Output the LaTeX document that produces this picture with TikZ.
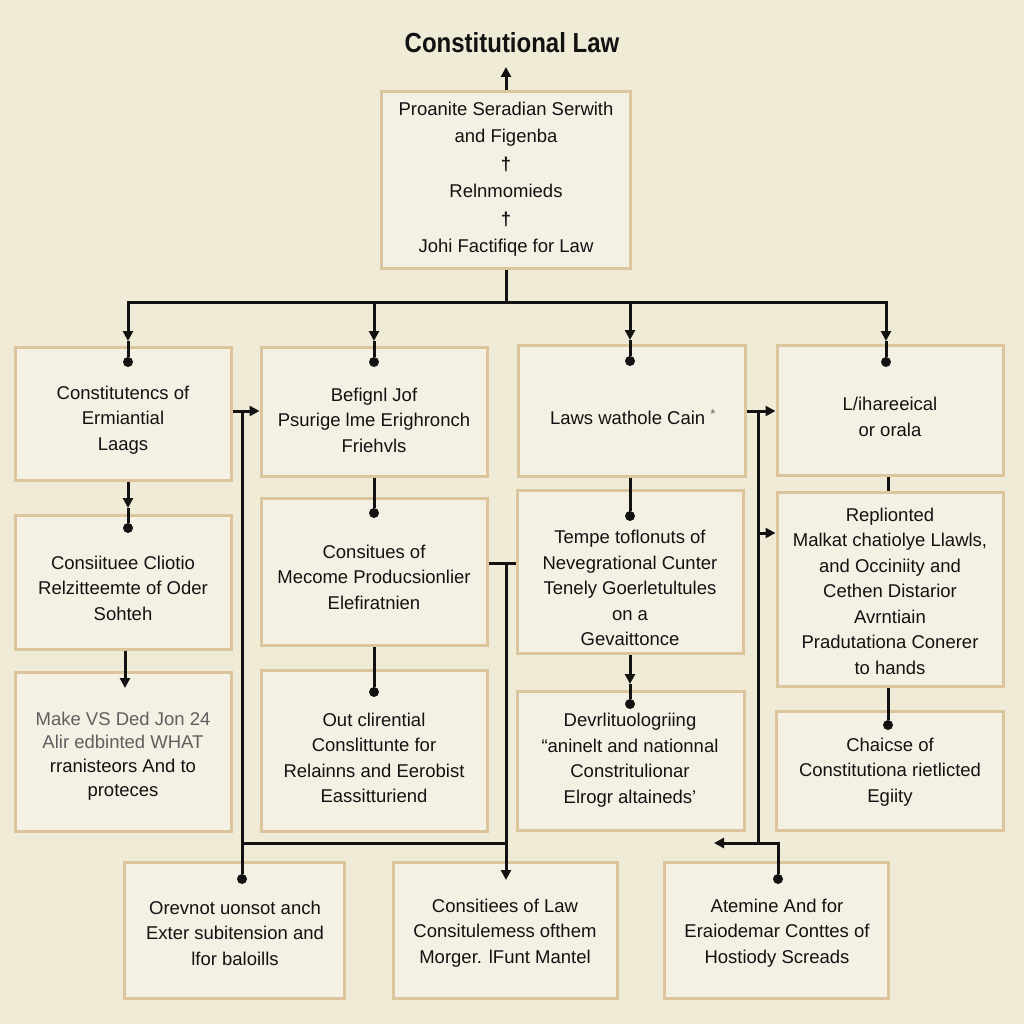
\documentclass[tikz,border=0pt]{standalone}
\usepackage{fontspec}
\setmainfont{Liberation Sans}
\usetikzlibrary{arrows.meta,calc}
\definecolor{bg}{RGB}{239,235,215}
\definecolor{boxfill}{RGB}{244,241,228}
\definecolor{boxline}{RGB}{220,196,156}
\definecolor{ink}{RGB}{18,18,18}
\definecolor{soft}{RGB}{95,95,95}
\begin{document}
\begin{tikzpicture}[x=1pt,y=-1pt,
  box/.style={draw=boxline, fill=boxfill, line width=3pt, inner sep=0pt, rectangle},
  txt/.style={font=\fontsize{18.5}{25.5}\selectfont, text=ink, align=center, inner sep=0pt},
  conn/.style={draw=ink, line width=3pt},
  arr/.style={conn, -{Triangle[length=10pt,width=10pt]}},
  dot/.style={circle, fill=ink, inner sep=0pt, minimum size=10pt}
]
\fill[bg] (0,0) rectangle (1024,1024);
\useasboundingbox (0,0) rectangle (1024,1024);

% title
\node[font=\bfseries\fontsize{24}{28}\selectfont, text=ink, inner sep=0pt] (title) at (512,43) {\scalebox{1}[1.15]{Constitutional Law}};

% boxes
\node[box, minimum width=249pt, minimum height=176pt] (T) at (506,180) {};
\node[box, minimum width=216pt, minimum height=133pt] (a1) at (123,413.5) {};
\node[box, minimum width=226pt, minimum height=129pt] (b1) at (374,411.5) {};
\node[box, minimum width=227pt, minimum height=131pt] (c1) at (631.5,410.5) {};
\node[box, minimum width=226pt, minimum height=130pt] (d1) at (890,410) {};
\node[box, minimum width=216pt, minimum height=134pt] (a2) at (123,582) {};
\node[box, minimum width=226pt, minimum height=147pt] (b2) at (374,571.5) {};
\node[box, minimum width=226pt, minimum height=163pt] (c2) at (630,571.5) {};
\node[box, minimum width=226pt, minimum height=194pt] (d2) at (890,589) {};
\node[box, minimum width=216pt, minimum height=159pt] (a3) at (123,751.5) {};
\node[box, minimum width=226pt, minimum height=161pt] (b3) at (374,750.5) {};
\node[box, minimum width=227pt, minimum height=139pt] (c3) at (630.5,760.5) {};
\node[box, minimum width=227pt, minimum height=119pt] (d3) at (889.5,770.5) {};
\node[box, minimum width=220pt, minimum height=136pt] (e1) at (234,930) {};
\node[box, minimum width=224pt, minimum height=136pt] (e2) at (505,930) {};
\node[box, minimum width=224pt, minimum height=136pt] (e3) at (776,930) {};

% texts
\node[txt, font=\fontsize{18.5}{27.5}\selectfont] (Tt) at (506,179) {Proanite Seradian Serwith\\and Figenba\\\textbf{†}\\Relnmomieds\\\textbf{†}\\Johi Factifiqe for Law};
\node[txt] (a1t) at (123,420) {Constitutencs of\\Ermiantial\\Laags};
\node[txt] (b1t) at (374,420) {Befignl Jof\\Psurige lme Erighronch\\Friehvls};
\node[txt] (c1t) at (633,417) {Laws wathole Cain \textcolor{soft}{\textsuperscript{*}}};
\node[txt] (d1t) at (890,417) {L/ihareeical\\or orala};
\node[txt] (a2t) at (123,588) {Consiituee Cliotio\\Relzitteemte of Oder\\Sohteh};
\node[txt] (b2t) at (374,577) {Consitues of\\Mecome Producsionlier\\Elefiratnien};
\node[txt] (c2t) at (630,588) {Tempe toflonuts of\\Nevegrational Cunter\\Tenely Goerletultules\\on a\\Gevaittonce};
\node[txt] (d2t) at (890,591) {Replionted\\Malkat chatiolye Llawls,\\and Occiniity and\\Cethen Distarior\\Avrntiain\\Pradutationa Conerer\\to hands};
\node[txt, font=\fontsize{18.5}{23.7}\selectfont] (a3t) at (123,756) {\textcolor{soft}{Make VS Ded Jon 24}\\\textcolor{soft}{Alir edbinted WHAT}\\rranisteors And to\\proteces};
\node[txt] (b3t) at (374,758) {Out clirential\\Conslittunte for\\Relainns and Eerobist\\Eassitturiend};
\node[txt] (c3t) at (630,760) {Devrlituologriing\\“aninelt and nationnal\\Constritulionar\\Elrogr altaineds’};
\node[txt] (d3t) at (890,772) {Chaicse of\\Constitutiona rietlicted\\Egiity};
\node[txt] (e1t) at (235,933) {Orevnot uonsot anch\\Exter subitension and\\lfor baloills};
\node[txt] (e2t) at (505,933) {Consitiees of Law\\Consitulemess ofthem\\Morger. lFunt Mantel};
\node[txt] (e3t) at (777,933) {Atemine And for\\Eraiodemar Conttes of\\Hostiody Screads};

% dots
\node[dot] (a1d) at (128,362) {};
\node[dot] (b1d) at (374,362) {};
\node[dot] (c1d) at (630,361) {};
\node[dot] (d1d) at (886,362) {};
\node[dot] (a2d) at (128,528) {};
\node[dot] (b2d) at (374,513) {};
\node[dot] (c2d) at (630,516) {};
\node[dot] (b3d) at (374,692) {};
\node[dot] (c3d) at (630,704) {};
\node[dot] (d3d) at (888,725) {};
\node[dot] (e1d) at (242,879) {};
\node[dot] (e3d) at (778,879) {};

% coordinates
\coordinate (tup) at (506,67);
\coordinate (busM) at (506,302);
\coordinate (bA) at (128,302);
\coordinate (bB) at (374,302);
\coordinate (bC) at (630,302);
\coordinate (bD) at (886,302);
\coordinate (tA) at (128,341);
\coordinate (tB) at (374,341);
\coordinate (tC) at (630,340);
\coordinate (tD) at (886,341);
\coordinate (tA2) at (128,508);
\coordinate (tA3) at (125,688);
\coordinate (tC3) at (630,684);
\coordinate (jA) at (242,411);
\coordinate (jAb) at (242,843);
\coordinate (jB) at (506,563);
\coordinate (jM) at (506,843);
\coordinate (tE2) at (506,880);
\coordinate (jC) at (758,411);
\coordinate (jC2) at (758,533);
\coordinate (jCb) at (758,843);
\coordinate (jE) at (778,843);
\coordinate (jEl) at (714,843);

% connectors
\draw[arr] (T.north) -- (tup);
\draw[conn] (T.south) -- (busM);
\draw[conn, line cap=rect] (bA) -- (bD);
\draw[arr] (bA) -- (tA); \draw[conn] (tA) -- (a1d);
\draw[arr] (bB) -- (tB); \draw[conn] (tB) -- (b1d);
\draw[arr] (bC) -- (tC); \draw[conn] (tC) -- (c1d);
\draw[arr] (bD) -- (tD); \draw[conn] (tD) -- (d1d);

\draw[arr] (a1.south -| a1d) -- (tA2); \draw[conn] (tA2) -- (a2d);
\draw[arr] (a2.south -| tA3) -- (tA3);
\draw[conn] (b1.south -| b1d) -- (b2d);
\draw[conn] (b2.south -| b3d) -- (b3d);
\draw[conn] (c1.south -| c2d) -- (c2d);
\draw[arr] (c2.south -| tC3) -- (tC3); \draw[conn] (tC3) -- (c3d);
\draw[conn] (d1.south -| d3d) -- (d2.north -| d3d);
\draw[conn] (d2.south -| d3d) -- (d3d);

\draw[arr] (a1.east |- jA) -- (b1.west |- jA);
\draw[conn, line join=miter] (jA) -- (jAb) -- (jM);
\draw[conn] (jAb) -- (e1d);
\draw[conn] (b2.east |- jB) -- (c2.west |- jB);
\draw[arr] (jB) -- (tE2);

\draw[arr] (c1.east |- jC) -- (d1.west |- jC);
\draw[conn] (jC) -- (jCb);
\draw[arr] (jC2) -- (d2.west |- jC2);
\draw[arr, line join=miter] (e3d) -- (jE) -- (jEl);
\end{tikzpicture}
\end{document}
